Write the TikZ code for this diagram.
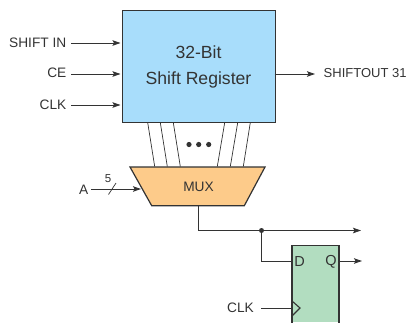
\documentclass[tikz,border=0pt]{standalone}
\usepackage{fontspec}
\setmainfont{Liberation Sans}
\usetikzlibrary{arrows.meta,shapes.geometric}
\definecolor{ink}{HTML}{333333}
\definecolor{regblue}{HTML}{A8DDFB}
\definecolor{muxorange}{HTML}{FDCB8A}
\definecolor{ffgreen}{HTML}{B2DDC0}
\tikzset{
  lbl/.style={font=\fontsize{13.7}{15}\selectfont,text=ink,inner sep=0pt},
  boxedge/.style={draw=ink,line width=1.2pt},
  wire/.style={draw=ink,line width=0.85pt},
  sig/.style={wire,-{Stealth[length=8pt,width=5.5pt,inset=1.5pt]}},
  thinw/.style={draw=ink,line width=0.7pt},
  dotm/.style={circle,fill=ink,inner sep=0pt,minimum size=5.2pt}
}
\begin{document}
\begin{tikzpicture}[x=1pt,y=-1pt]
\useasboundingbox (0,0) rectangle (409,322);
% register
\node[boxedge,fill=regblue,minimum width=152.5pt,minimum height=112pt,inner sep=0pt,anchor=north west] (reg) at (122,10) {};
\node[font=\fontsize{17.6}{20}\selectfont,text=ink,inner sep=0pt] (t1) at (198.5,52.5) {32-Bit};
\node[font=\fontsize{17.6}{20}\selectfont,text=ink,inner sep=0pt] (t2) at (198.5,80) {Shift Register};
% inputs
\node[lbl,anchor=east] (sin) at (66.5,43) {SHIFT IN};
\node[lbl,anchor=east] (ce) at (66.5,72.5) {CE};
\node[lbl,anchor=east] (clka) at (66.5,105) {CLK};
\coordinate (sinE) at (71,43);
\coordinate (ceE) at (71,74);
\coordinate (clkE) at (71,105);
\draw[sig,shorten >=1.5pt] (sinE) -- (sinE-|reg.west);
\draw[sig,shorten >=1.5pt] (ceE) -- (ceE-|reg.west);
\draw[sig,shorten >=1.5pt] (clkE) -- (clkE-|reg.west);
% output
\node[lbl,anchor=west,font=\fontsize{13}{15}\selectfont] (sout) at (323.5,73) {SHIFTOUT 31};
\coordinate (soutS) at (274.5,74);
\coordinate (soutE) at (315,74);
\draw[sig] (soutS) -- (soutE);
% mux
\path[boxedge,fill=muxorange] (130,167) -- (265,167) -- (244.3,205.7) -- (151.7,205.7) -- cycle;
\node[lbl] (mux) at (198.5,187) {MUX};
% bus wires
\foreach \a/\b in {147.7/154.7,160.3/167.3,173.3/180.3,224.7/217.3,237.7/230.3,250.3/243.3}
  \draw[thinw] (\a,122.6) -- (\b,166.5);
\node[dotm] (d1) at (189,144.5) {};
\node[dotm] (d2) at (198.7,144.5) {};
\node[dotm] (d3) at (208.7,144.5) {};
% A
\node[lbl,anchor=east] (a) at (88.5,189.5) {A};
\node[font=\fontsize{11.5}{13}\selectfont,text=ink,inner sep=0pt] (five) at (108,178.5) {5};
\coordinate (aS) at (91,189);
\coordinate (aE) at (141,189);
\draw[sig] (aS) -- (aE);
\coordinate (sl1) at (108.5,194.5);
\coordinate (sl2) at (116,183);
\draw[thinw] (sl1) -- (sl2);
% flip-flop
\fill[ffgreen] (292,245.3) rectangle (339,322);
\draw[boxedge] (292,323) -- (292,245.3) -- (339,245.3) -- (339,323);
\node[lbl,font=\fontsize{14.5}{16}\selectfont] (dp) at (299.5,261.5) {D};
\node[lbl,font=\fontsize{14.5}{16}\selectfont] (qp) at (331,261.5) {Q};
% mux output
\coordinate (mo) at (198,205.7);
\coordinate (jy) at (198,230.5);
\node[dotm,minimum size=5pt] (j) at (261.5,230.5) {};
\coordinate (tip) at (361,230.5);
\coordinate (dE) at (292,261);
\draw[wire] (mo) -- (jy) -- (j.center);
\draw[sig] (j.center) -- (tip);
\draw[wire] (j.center) -- (j.center|-dE) -- (dE);
\coordinate (qS) at (339,261);
\coordinate (qE) at (362,261);
\draw[sig] (qS) -- (qE);
% clk
\node[lbl,anchor=east] (clkb) at (254,308) {CLK};
\coordinate (cS) at (261,308);
\coordinate (cE) at (292,308);
\draw[wire] (cS) -- (cE);
\draw[draw=ink,line width=1.1pt] (292,301) -- (300,308) -- (292,316);
\end{tikzpicture}
\end{document}
